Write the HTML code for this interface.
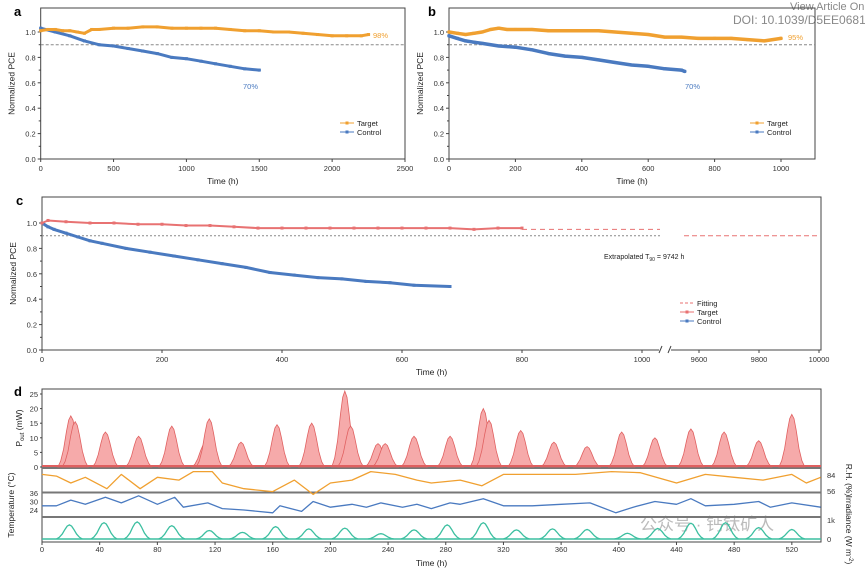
<!DOCTYPE html>
<html><head><meta charset="utf-8"><style>
body{margin:0;background:#fff}
svg{display:block;font-family:"Liberation Sans","Noto Sans CJK SC",sans-serif}
</style></head><body>
<svg id="fig" width="865" height="572" viewBox="0 0 865 572">
<text x="790" y="10" font-size="11" fill="#888">View Article On</text>
<text x="733" y="24" font-size="12" fill="#888">DOI: 10.1039/D5EE0681</text>
<text x="14" y="16" font-size="13" font-weight="bold">a</text>
<text x="428" y="16" font-size="13" font-weight="bold">b</text>
<text x="16" y="205" font-size="13" font-weight="bold">c</text>
<text x="14" y="396" font-size="13" font-weight="bold">d</text>
<text x="640" y="530" font-size="17" fill="#bbb">公众号 · 钙钛矿人</text>
</svg>
<script>
// ---- Panel a data ----
const aTargetT=[0,50,100,150,200,250,300,350,400,500,600,700,800,900,1000,1100,1200,1300,1400,1500,1600,1700,1800,1900,2000,2100,2200,2250];
const aTargetV=[1.01,1.02,1.02,1.01,1.01,1.0,0.99,1.02,1.02,1.03,1.03,1.04,1.04,1.03,1.03,1.03,1.03,1.02,1.01,1.01,1.0,1.0,0.99,0.98,0.97,0.97,0.97,0.98];
const aControlT=[0,100,200,300,400,500,600,700,800,900,1000,1100,1200,1300,1400,1500];
const aControlV=[1.03,1.0,0.97,0.93,0.90,0.89,0.87,0.85,0.83,0.80,0.79,0.77,0.75,0.73,0.71,0.70];
// ---- Panel b data ----
const bTargetT=[0,25,50,75,100,125,150,175,200,250,300,350,400,450,500,550,600,650,700,750,800,850,900,950,1000];
const bTargetV=[1.0,0.99,0.98,0.99,1.0,1.02,1.03,1.02,1.02,1.02,1.01,1.01,1.01,1.01,1.0,0.99,0.98,0.96,0.96,0.95,0.95,0.95,0.94,0.93,0.95];
const bControlT=[0,25,50,75,100,150,200,250,300,350,400,450,500,550,600,650,700,710];
const bControlV=[0.97,0.95,0.93,0.92,0.91,0.89,0.88,0.86,0.83,0.81,0.80,0.78,0.76,0.74,0.73,0.71,0.70,0.69];
// ---- Panel c data ----
const cTargetT=[0,10,40,80,120,160,200,240,280,320,360,400,440,480,520,560,600,640,680,720,760,800];
const cTargetV=[1.0,1.02,1.01,1.0,1.0,0.99,0.99,0.98,0.98,0.97,0.96,0.96,0.96,0.96,0.96,0.96,0.96,0.96,0.96,0.95,0.96,0.96];
const cControlT=[0,10,20,40,60,80,100,140,180,220,260,300,340,380,420,460,500,540,580,620,680];
const cControlV=[1.0,0.97,0.95,0.92,0.89,0.86,0.84,0.80,0.77,0.74,0.71,0.68,0.65,0.61,0.59,0.57,0.56,0.54,0.53,0.51,0.50];
const cFitT=[800,1030];
const cFitV=[0.95,0.95];
const cFitFarT=[9550,10000];
const cFitFarV=[0.90,0.90];
// ---- Panel d data ----
const pTimes=[20,23,44,67,90,113,116,138,163,187,210,214,233,238,258,283,306,310,332,355,378,402,425,450,473,497,520];
const pValues=[17.5,15.5,12,10.5,14,8,16.5,8.5,14.5,15,26,14,8,8,10.5,10.5,20,16,12.5,8.5,7,12,10,13,12,9,18];
const rhT=[0,10,20,30,45,55,68,80,95,105,118,125,140,160,175,188,200,215,228,245,260,270,290,305,320,345,370,395,415,440,460,480,500,520,530,540];
const rhV=[85,82,70,80,60,85,60,80,75,90,90,70,60,55,75,50,70,75,90,85,75,70,75,65,85,85,85,90,88,70,85,80,75,85,70,80];
const tmpT=[0,10,20,30,44,55,67,80,92,98,115,125,140,160,165,180,188,200,215,225,235,250,260,270,283,290,306,320,340,360,380,398,410,425,440,450,460,480,497,505,520,540];
const tmpV=[27,27,31,28,33,29,34,28,33,26,29,25,24,22,27,23,30,26,28,26,29,26,28,25,29,28,32,27,27,28,29,22,26,30,28,32,27,28,30,26,29,26];
const irrT=[19,43,66,90,116,139,162,185,210,235,258,281,306,329,354,378,406,427,450,474,497,520];
const irrV=[740,860,900,700,450,350,650,530,570,280,480,740,860,480,530,500,300,550,830,860,600,500];

const NS='http://www.w3.org/2000/svg';
const svg=document.getElementById('fig');
function mk(tag,attrs,parent){const e=document.createElementNS(NS,tag);for(const k in attrs)e.setAttribute(k,attrs[k]);(parent||svg).appendChild(e);return e;}
function txt(x,y,s,size,anchor,fill,parent){const e=mk('text',{x:x,y:y,'font-size':size,'text-anchor':anchor||'middle',fill:fill||'#222'},parent);e.textContent=s;return e;}
function path(X,Y,ts,vs){return ts.map((t,i)=>(i?'L':'M')+X(t).toFixed(1)+','+Y(vs[i]).toFixed(1)).join('');}
function bump(X,Y,t,v){
  const o=[[-9,0],[-7,0.12],[-5,0.35],[-3,0.7],[-1.5,0.92],[0,1],[1.5,0.92],[3,0.7],[5,0.35],[7,0.12],[9,0]];
  return o.map((p,i)=>(i?'L':'M')+X(t+p[0]).toFixed(1)+','+Y(v*p[1]).toFixed(1)).join('');
}

function pceAxes(g,X,Y,left,right,top,bottom,xt,xlabels,prefix){
  const box=mk('rect',{x:left,y:top,width:right-left,height:bottom-top,fill:'none',stroke:'#444','stroke-width':1},g);
  
  
  for(let v=0;v<=1.01;v+=0.1){
    const major=Math.round(v*10)%2===0;
    const tk=mk('line',{x1:left-(major?3:2),x2:left,y1:Y(v),y2:Y(v),stroke:'#444'},g);
    
    
    if(major){const l=txt(left-5,Y(v)+3,v.toFixed(1),7.5,'end','#333',g);
      
      }
  }
  xt.forEach((t,i)=>{
    const tk=mk('line',{x1:X(t),x2:X(t),y1:bottom,y2:bottom+3,stroke:'#444'},g);
    
    
    const l=txt(X(t),bottom+12,xlabels[i],7.5,'middle','#333',g);
    
    
  });
  const xl=txt((left+right)/2,bottom+25,'Time (h)',8.5,'middle','#222',g);
  
  
  const yl=txt(0,0,'Normalized PCE',8.5,'middle','#222',g);
  yl.setAttribute('transform','translate('+(left-26)+','+((top+bottom)/2)+') rotate(-90)');
  
  
}
function series(g,X,Y,ts,vs,color,name,w){
  const p=mk('path',{d:path(X,Y,ts,vs),fill:'none',stroke:color,'stroke-width':w||3,'stroke-linejoin':'round','stroke-linecap':'round'},g);
  
  
  ts.forEach((t,i)=>{const c=mk('rect',{x:X(t)-1.5,y:Y(vs[i])-1.5,width:3,height:3,fill:color},g);
    
    });
}
function legendEntry(g,x,y,color,label,dash){
  const l=mk('line',{x1:x,x2:x+14,y1:y,y2:y,stroke:color,'stroke-width':1,'stroke-dasharray':dash?'3,2':'none'},g);
  
  
  if(!dash){const m=mk('rect',{x:x+5.5,y:y-1.5,width:3,height:3,fill:color},g);
    
    }
  const t=txt(x+17,y+3,label,7.5,'start','#222',g);
  
  
}
const OR='#F0A030',BL='#4A7AC0',RD='#E87272',TE='#3CBFA0';

// Panel a
{const g=mk('g',{});
 const X=t=>40.7+t/2500*364.3, Y=v=>159-v*127;
 pceAxes(g,X,Y,40.7,405,8,159,[0,500,1000,1500,2000,2500],['0','500','1000','1500','2000','2500'],'panel-a');
 const d=mk('line',{x1:40.7,x2:405,y1:Y(0.9),y2:Y(0.9),stroke:'#888','stroke-dasharray':'3,2'},g);
 
 series(g,X,Y,aControlT,aControlV,BL,'panel-a-control');
 series(g,X,Y,aTargetT,aTargetV,OR,'panel-a-target');
 const p1=txt(373,38,'98%',7.5,'start',OR,g);
 const p2=txt(243,89,'70%',7.5,'start',BL,g);
 legendEntry(g,340,123,OR,'Target');legendEntry(g,340,132,BL,'Control');
}
// Panel b
{const g=mk('g',{});
 const X=t=>449+t/1000*332, Y=v=>159-v*127;
 pceAxes(g,X,Y,449,815,8,159,[0,200,400,600,800,1000],['0','200','400','600','800','1000'],'panel-b');
 const d=mk('line',{x1:449,x2:815,y1:Y(0.9),y2:Y(0.9),stroke:'#888','stroke-dasharray':'3,2'},g);
 
 series(g,X,Y,bControlT,bControlV,BL,'panel-b-control',3.5);
 series(g,X,Y,bTargetT,bTargetV,OR,'panel-b-target',3.5);
 const p1=txt(788,40,'95%',7.5,'start',OR,g);
 const p2=txt(685,89,'70%',7.5,'start',BL,g);
 legendEntry(g,750,123,OR,'Target');legendEntry(g,750,132,BL,'Control');
}
// Panel c
{const g=mk('g',{});
 const X=t=>t<=1100?42+t*0.6:699+(t-9600)*0.3, Y=v=>350-v*127;
 pceAxes(g,X,Y,42,821,197,350,[0,200,400,600,800,1000,9600,9800,10000],['0','200','400','600','800','1000','9600','9800','10000'],'panel-c');
 const br=mk('rect',{x:659,y:346,width:12,height:8,fill:'#fff'},g);
 [659,668].forEach(x=>{const s=mk('line',{x1:x,y1:353,x2:x+3,y2:346,stroke:'#444'},g);});
 const d=mk('line',{x1:42,x2:X(1030),y1:Y(0.9),y2:Y(0.9),stroke:'#888','stroke-dasharray':'2,2'},g);
 
 const f1=mk('path',{d:path(X,Y,cFitT,cFitV),stroke:RD,fill:'none','stroke-dasharray':'5,4'},g);
 
 const f2=mk('path',{d:path(X,Y,cFitFarT,cFitFarV),stroke:RD,fill:'none','stroke-dasharray':'5,3'},g);
 
 series(g,X,Y,cControlT,cControlV,BL,'panel-c-control',3);
 series(g,X,Y,cTargetT,cTargetV,RD,'panel-c-target',2);
 const e=txt(604,259,'',7,'start','#222',g);
 e.innerHTML='Extrapolated T<tspan font-size="5" dy="2">90</tspan><tspan dy="-2"> = 9742 h</tspan>';
 
 legendEntry(g,680,303,RD,'Fitting',true);legendEntry(g,680,312,RD,'Target');legendEntry(g,680,321,BL,'Control');
}
// Panel d
{const g=mk('g',{});
 const L=42,R=821,X=t=>L+t*1.442;
 const Yp=v=>467-v*2.92, Yrh=v=>475+(84-v)*0.571, Yt=v=>493+(36-v)*1.417, Yi=v=>539-v*0.019;
 const f=mk('rect',{x:L,y:389,width:R-L,height:153,fill:'none',stroke:'#444'},g);
 [468,492.5,517].forEach(y=>{const s=mk('rect',{x:L,y:y-1,width:R-L,height:2,fill:'#777'},g);});
 pTimes.forEach((t,i)=>{const v=pValues[i];
  const pk=mk('path',{d:bump(X,Yp,t,v)+'Z',fill:'#F6AAAA',stroke:'#E06060','stroke-width':0.8},g);
  });
 const bl=mk('line',{x1:L,x2:R,y1:Yp(0)-1,y2:Yp(0)-1,stroke:'#E06060','stroke-width':2},g);
 const rh=mk('path',{d:path(X,Yrh,rhT,rhV),fill:'none',stroke:OR,'stroke-width':1.3,'stroke-linejoin':'round'},g);
 const tp=mk('path',{d:path(X,Yt,tmpT,tmpV),fill:'none',stroke:BL,'stroke-width':1.3,'stroke-linejoin':'round'},g);
 irrT.forEach((t,i)=>{const v=irrV[i];
  const ir=mk('path',{d:bump(X,Yi,t,v),fill:'none',stroke:TE,'stroke-width':1.3},g);
  });
 const ib=mk('line',{x1:L,x2:R,y1:Yi(0),y2:Yi(0),stroke:TE,'stroke-width':1.5},g);
 [0,5,10,15,20,25].forEach(v=>{const l=txt(L-4,Yp(v)+3,String(v),7.5,'end','#333',g);
  const tk=mk('line',{x1:L-2,x2:L,y1:Yp(v),y2:Yp(v),stroke:'#444'},g);});
 [36,30,24].forEach(v=>{const l=txt(L-4,Yt(v)+3,String(v),7.5,'end','#333',g);});
 [84,56].forEach(v=>{const l=txt(R+6,Yrh(v)+3,String(v),7.5,'start','#333',g);});
 [[1000,'1k'],[0,'0']].forEach(a=>{const l=txt(R+6,Yi(a[0])+3,a[1],7.5,'start','#333',g);});
 for(let t=0;t<=520;t+=40){const l=txt(X(t),552,String(t),7.5,'middle','#333',g);
  const tk=mk('line',{x1:X(t),x2:X(t),y1:542,y2:545,stroke:'#444'},g);}
 const xt=txt((L+R)/2,566,'Time (h)',8.5,'middle','#222',g);
 const a1=txt(0,0,'',8.5,'middle','#222',g);a1.innerHTML='P<tspan font-size="6" dy="2">out</tspan><tspan dy="-2"> (mW)</tspan>';
 a1.setAttribute('transform','translate(22,428) rotate(-90)');
 const a2=txt(0,0,'Temperature (°C)',8.5,'middle','#222',g);a2.setAttribute('transform','translate(14,505) rotate(-90)');
 const a3=txt(0,0,'R.H. (%)',8.5,'middle','#222',g);a3.setAttribute('transform','translate(846,480) rotate(90)');
 const a4=txt(0,0,'',8.5,'middle','#222',g);a4.innerHTML='Irradiance (W m<tspan font-size="6" dy="-3">-2</tspan><tspan dy="3">)</tspan>';
 a4.setAttribute('transform','translate(846,530) rotate(90)');
}
</script>
</body></html>
